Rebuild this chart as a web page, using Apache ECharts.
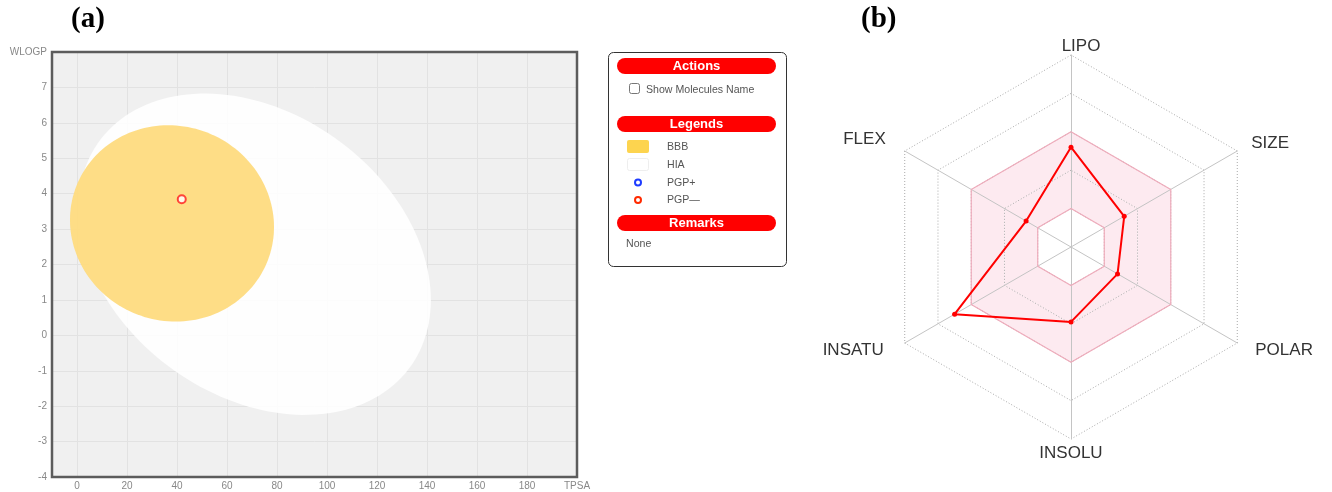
<!DOCTYPE html>
<html>
<head>
<meta charset="utf-8">
<script src="https://cdn.jsdelivr.net/npm/echarts@6/dist/echarts.min.js"></script>
<style>
html,body{margin:0;padding:0;background:#fff;}
#chart{width:1332px;height:492px;}
</style>
</head>
<body>
<div id="chart"></div>
<script>
// ---------- Data: panel (a) BOILED-Egg ----------
const xRange = [-10, 200];            // TPSA
const yRange = [-4, 8];               // WLOGP
const xName = 'TPSA';
const yName = 'WLOGP';
// ellipse parameters: [centerTPSA, centerWLOGP, halfWidthTPSA, wlogpCosTerm, wlogpSinTerm]
const ellipseHIA = [71.05, 2.29, 70.5, -1.29, 4.35];
const ellipseBBB = [38.0, 3.16, 40.8, -0.10, 2.77];
const molecule = [41.9, 3.84];        // [TPSA, WLOGP]

// legend panel texts
const panelHeaders = ['Actions', 'Legends', 'Remarks'];
const legendLabels = ['BBB', 'HIA', 'PGP+', 'PGP\u2014'];
const checkboxLabel = 'Show Molecules Name';
const remarksText = 'None';

// ---------- Data: panel (b) bioavailability radar ----------
const radarAxes = ['LIPO', 'FLEX', 'INSATU', 'INSOLU', 'POLAR', 'SIZE'];
const radarValues = [0.52, 0.27, 0.70, 0.39, 0.28, 0.32];
const optimalLow = [0.2, 0.2, 0.2, 0.2, 0.2, 0.2];
const optimalHigh = [0.6, 0.6, 0.6, 0.6, 0.6, 0.6];

const FONT = '"Liberation Sans", Arial, sans-serif';
const chart = echarts.init(document.getElementById('chart'), null, {renderer: 'canvas'});

function ellipseItem(params, api) {
  const cx = api.value(0), cy = api.value(1), rx = api.value(2), d = api.value(3), e = api.value(4);
  const pts = [];
  const N = 160;
  for (let i = 0; i < N; i++) {
    const t = 2 * Math.PI * i / N;
    pts.push(api.coord([cx + rx * Math.cos(t), cy + d * Math.cos(t) + e * Math.sin(t)]));
  }
  const isBBB = params.seriesName === 'BBB';
  return {type: 'polygon', shape: {points: pts}, style: {fill: isBBB ? '#fedb7e' : '#ffffff', opacity: isBBB ? 0.94 : 0.9}};
}

// label offsets for radar axis names (padding: top, right, bottom, left)
const namePad = {
  LIPO: [0, 0, 0, 20],
  FLEX: [0, 19, 24, 0],
  INSATU: [14, 21, 0, 0],
  INSOLU: [6, 0, 0, 0],
  POLAR: [14, 0, 0, 18],
  SIZE: [0, 0, 16, 14]
};
const nameRich = {};
radarAxes.forEach(n => { nameRich[n] = {padding: namePad[n], fontSize: 17, color: '#333', fontFamily: FONT}; });

// panel graphics
const PX = 608, PY = 52, PW = 178, PH = 214;
const pillY = [58, 116, 215];
const graphics = [
  {type: 'text', left: 71, top: 5, style: {text: '(a)', font: 'bold 29px "Liberation Serif", "Times New Roman", serif', fill: '#000'}},
  {type: 'text', left: 861, top: 5, style: {text: '(b)', font: 'bold 29px "Liberation Serif", "Times New Roman", serif', fill: '#000'}},
  {type: 'rect', z: 10, shape: {x: 52, y: 52, width: 525, height: 425}, style: {fill: null, stroke: '#5c5c5c', lineWidth: 2.5}},
  {type: 'rect', shape: {x: PX + 0.5, y: PY + 0.5, width: PW, height: PH, r: 5}, style: {fill: '#fff', stroke: '#333', lineWidth: 1}},
];
panelHeaders.forEach((h, i) => {
  graphics.push({type: 'rect', shape: {x: 617, y: pillY[i], width: 159, height: 16, r: 8}, style: {fill: '#ff0000'}});
  graphics.push({type: 'text', x: 696.5, y: pillY[i] + 8.5, style: {text: h, font: 'bold 13px ' + FONT, fill: '#fff', textAlign: 'center', textVerticalAlign: 'middle'}});
});
graphics.push({type: 'rect', shape: {x: 629.5, y: 83.5, width: 10, height: 10, r: 2}, style: {fill: '#fff', stroke: '#777', lineWidth: 1}});
graphics.push({type: 'text', x: 646, y: 90, style: {text: checkboxLabel, font: '10.6px ' + FONT, fill: '#555', textVerticalAlign: 'middle'}});
// legend swatches
graphics.push({type: 'rect', shape: {x: 627, y: 140, width: 22, height: 13, r: 2}, style: {fill: '#fdd44f'}});
graphics.push({type: 'rect', shape: {x: 627.5, y: 158.5, width: 21, height: 12, r: 2}, style: {fill: '#fff', stroke: '#eee', lineWidth: 1}});
graphics.push({type: 'circle', shape: {cx: 638, cy: 182.5, r: 3}, style: {fill: '#fff', stroke: '#1e3cff', lineWidth: 2}});
graphics.push({type: 'circle', shape: {cx: 638, cy: 200, r: 3}, style: {fill: '#fff', stroke: '#ff2a00', lineWidth: 2}});
const legY = [147, 165, 183, 200];
legendLabels.forEach((l, i) => {
  graphics.push({type: 'text', x: 667, y: legY[i], style: {text: l, font: '10.6px ' + FONT, fill: '#555', textVerticalAlign: 'middle'}});
});
graphics.push({type: 'text', x: 626, y: 244, style: {text: remarksText, font: '10.6px ' + FONT, fill: '#555', textVerticalAlign: 'middle'}});

const option = {
  animation: false,
  backgroundColor: '#fff',
  textStyle: {fontFamily: FONT},
  graphic: graphics,
  grid: {left: 52, top: 52, width: 525, height: 425, show: true, backgroundColor: '#f0f0f0', borderWidth: 0, containLabel: false},
  xAxis: {
    type: 'value', min: xRange[0], max: xRange[1], splitNumber: 10,
    axisLine: {show: false}, axisTick: {show: false},
    splitLine: {show: true, lineStyle: {color: '#e2e2e2', width: 1}},
    axisLabel: {color: '#888', fontSize: 10, margin: 4, showMinLabel: false,
      formatter: v => v === xRange[1] ? xName : (v === xRange[0] ? '' : String(v))}
  },
  yAxis: {
    type: 'value', min: yRange[0], max: yRange[1], interval: 1,
    axisLine: {show: false}, axisTick: {show: false},
    splitLine: {show: true, lineStyle: {color: '#e2e2e2', width: 1}},
    axisLabel: {color: '#888', fontSize: 10, margin: 5,
      formatter: v => v === yRange[1] ? yName : String(v)}
  },
  radar: {
    center: [1071, 247], radius: 192, startAngle: 90, splitNumber: 5, shape: 'polygon',
    indicator: radarAxes.map(n => ({name: n, min: 0, max: 1})),
    axisName: {color: '#333', fontSize: 17, fontFamily: FONT,
      formatter: (name) => '{' + name + '|' + name + '}', rich: nameRich},
    nameGap: 0,
    axisLine: {lineStyle: {color: '#c4c4c4', width: 1}},
    splitLine: {lineStyle: {color: '#aaaaaa', width: 1, type: [1, 2]}},
    splitArea: {show: true, areaStyle: {color: ['#ffffff', '#fdeaf0', '#fdeaf0', '#ffffff', '#ffffff']}}
  },
  series: [
    {name: 'HIA', type: 'custom', coordinateSystem: 'cartesian2d', renderItem: ellipseItem, data: [ellipseHIA], silent: true, z: 2},
    {name: 'BBB', type: 'custom', coordinateSystem: 'cartesian2d', renderItem: ellipseItem, data: [ellipseBBB], silent: true, z: 3},
    {name: 'molecule', type: 'scatter', data: [molecule], symbol: 'circle', symbolSize: 8,
      itemStyle: {color: '#fff', borderColor: '#ff1a1a', borderWidth: 2}, z: 5},
    {name: 'optimal', type: 'radar', silent: true, symbol: 'none',
      data: [
        {value: optimalHigh, lineStyle: {color: '#efabbb', width: 1.2}},
        {value: optimalLow, lineStyle: {color: '#efabbb', width: 1.2}}
      ]},
    {name: 'molecule-radar', type: 'radar', symbol: 'circle', symbolSize: 5,
      data: [{value: radarValues, lineStyle: {color: '#ff0000', width: 2}, itemStyle: {color: '#ff0000'}}]}
  ]
};
chart.setOption(option);
</script>
</body>
</html>
